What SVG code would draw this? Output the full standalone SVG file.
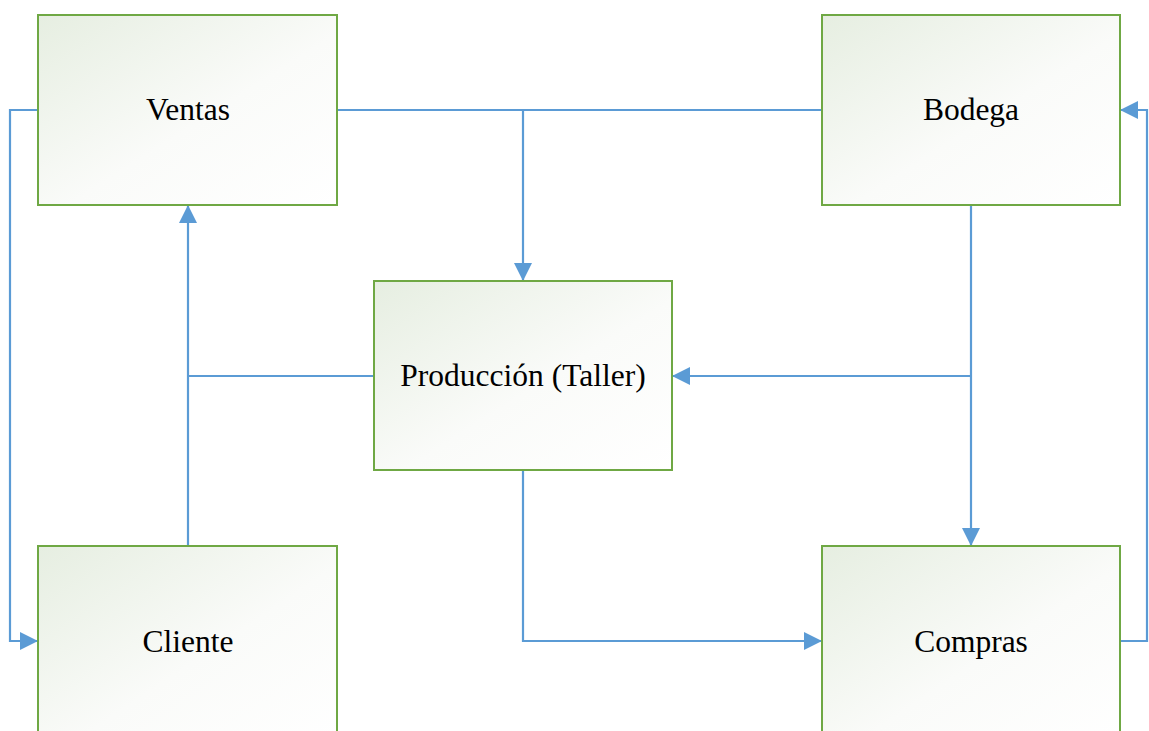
<svg xmlns="http://www.w3.org/2000/svg" width="1149" height="731" viewBox="0 0 1149 731">
<style>
.box{stroke:#6FA844;stroke-width:2;fill:url(#g)}
.lbl{font-family:"Liberation Serif","Times New Roman",serif;font-size:31.5px;fill:#000;text-anchor:middle}
.c{fill:none;stroke:#5B9BD5;stroke-width:2.2}
</style>
<defs>
<linearGradient id="g" x1="0" y1="0" x2="1" y2="1">
<stop offset="0" stop-color="#E6EEE1"/>
<stop offset="0.55" stop-color="#FAFBF9"/>
<stop offset="1" stop-color="#FFFFFF"/>
</linearGradient>
<marker id="a" markerUnits="userSpaceOnUse" markerWidth="18" markerHeight="18" viewBox="0 0 18 18" refX="18" refY="9" orient="auto">
<path d="M0,0 L18,9 L0,18 Z" fill="#5B9BD5"/>
</marker>
</defs>
<rect width="1149" height="731" fill="#fff"/>
<g id="connectors">
<path class="c" d="M38,110 H10 V641 H38" marker-end="url(#a)"/>
<path class="c" d="M337,110 H822"/>
<path class="c" d="M523,110 V281" marker-end="url(#a)"/>
<path class="c" d="M188,546 V205" marker-end="url(#a)"/>
<path class="c" d="M374,376 H188"/>
<path class="c" d="M971,205 V546" marker-end="url(#a)"/>
<path class="c" d="M971,376 H672" marker-end="url(#a)"/>
<path class="c" d="M523,470 V641 H822" marker-end="url(#a)"/>
<path class="c" d="M1120,641 H1147 V110 H1120" marker-end="url(#a)"/>
</g>
<g id="ventas"><rect class="box" x="38" y="15" width="299" height="190"/><text class="lbl" x="188" y="120">Ventas</text></g>
<g id="bodega"><rect class="box" x="822" y="15" width="298" height="190"/><text class="lbl" x="971" y="120">Bodega</text></g>
<g id="produccion"><rect class="box" x="374" y="281" width="298" height="189"/><text class="lbl" x="523" y="386">Producción (Taller)</text></g>
<g id="cliente"><rect class="box" x="38" y="546" width="299" height="200"/><text class="lbl" x="188" y="652">Cliente</text></g>
<g id="compras"><rect class="box" x="822" y="546" width="298" height="200"/><text class="lbl" x="971" y="652">Compras</text></g>
</svg>
